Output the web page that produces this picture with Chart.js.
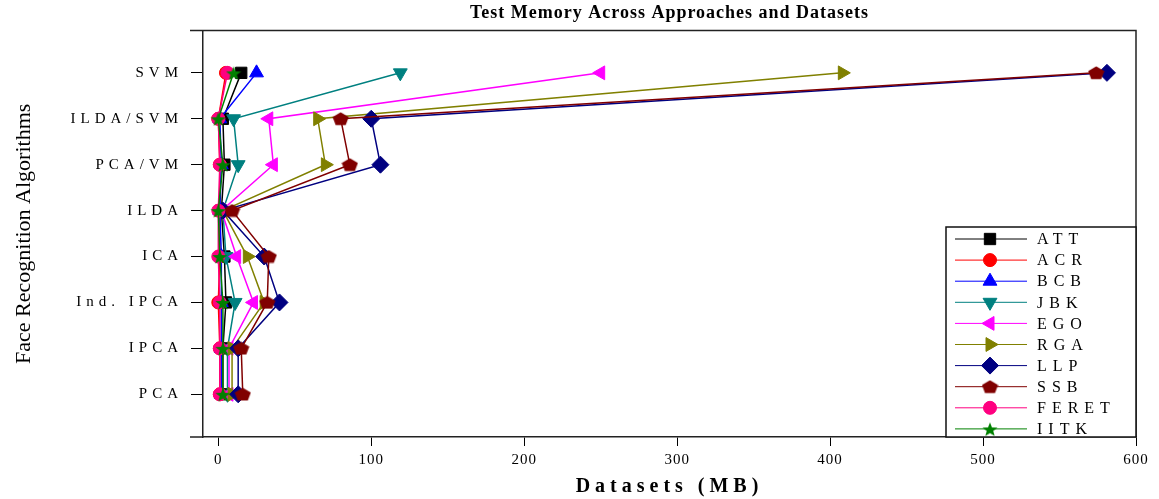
<!DOCTYPE html>
<html>
<head>
<meta charset="utf-8">
<title>Test Memory Across Approaches and Datasets</title>
<script src="https://cdn.jsdelivr.net/npm/chart.js@4.4.0/dist/chart.umd.min.js"></script>
<style>
  html, body { margin: 0; padding: 0; background: #fff; }
  #wrap { width: 1159px; height: 499px; position: relative; }
</style>
</head>
<body>
<div id="wrap"><canvas id="chart"></canvas></div>
<script>
const categories = ['PCA', 'IPCA', 'Ind. IPCA', 'ICA', 'ILDA', 'PCA/VM', 'ILDA/SVM', 'SVM'];
const xTicks = [0, 100, 200, 300, 400, 500, 600];

// test memory (MB), same order as categories (bottom to top)
const att   = [3, 3, 5, 4, 2, 4, 3, 15];
const acr   = [1, 1, 0, 1, 1, 1, 0, 5];
const bcb   = [2, 2, 2, 2, 1, 2, 1, 25];
const jbk   = [6, 6, 11, 5, 3, 13, 10, 119];
const ego   = [7, 7, 23, 12, 2, 36, 33, 250];
const rga   = [9, 9, 30, 19, 3, 70, 65, 408];
const llp   = [13, 13, 40, 30, 3, 106, 100, 581];
const ssb   = [16, 15, 32, 33, 9, 86, 80, 574];
const feret = [1, 1, 1, 0, 0, 1, 0, 6];
const iitk  = [3, 3, 3, 1, 0, 3, 0, 10];

const seriesNames = ['ATT', 'ACR', 'BCB', 'JBK', 'EGO', 'RGA', 'LLP', 'SSB', 'FERET', 'IITK'];
const seriesData = [att, acr, bcb, jbk, ego, rga, llp, ssb, feret, iitk];

const SERIF = "'Liberation Serif', 'Times New Roman', serif";
const colors = ['#000000', '#ff0000', '#0000ff', '#008080', '#ff00ff', '#808000', '#000080', '#800000', '#ff0080', '#008000'];

function shapeCanvas(w, h, color, points) {
  const c = document.createElement('canvas');
  c.width = w; c.height = h;
  const g = c.getContext('2d');
  g.fillStyle = color;
  g.beginPath();
  points.forEach(([px, py], i) => i ? g.lineTo(px, py) : g.moveTo(px, py));
  g.closePath();
  g.fill();
  return c;
}

function polyPoints(w, h, n, inner) {
  const pts = [];
  const steps = inner ? n * 2 : n;
  for (let i = 0; i < steps; i++) {
    const a = -Math.PI / 2 + i * Math.PI * 2 / steps;
    const r = inner && i % 2 ? inner : 1;
    pts.push([w / 2 + Math.cos(a) * r * w / 2, h / 2 + Math.sin(a) * r * h / 2 + (inner ? 1 : 0.5)]);
  }
  return pts;
}

const pentagon = shapeCanvas(17, 14, '#800000', polyPoints(17, 14, 5));
const star = shapeCanvas(16, 15, '#008000', polyPoints(16, 15, 5, 0.42));

const markers = [
  { style: 'rect', r: 8 },
  { style: 'circle', r: 6.5 },
  { style: 'triangle', r: 8 },
  { style: 'triangle', r: 8, rot: 180 },
  { style: 'triangle', r: 8, rot: -90 },
  { style: 'triangle', r: 8, rot: 90 },
  { style: 'rectRot', r: 8.5 },
  { style: pentagon, r: 7 },
  { style: 'circle', r: 6.5 },
  { style: star, r: 7 }
];

function spaced(obj, method, px) {
  if (!obj || obj['_sp_' + method]) return;
  const orig = obj[method];
  obj[method] = function (...args) {
    const ctx = this.ctx;
    ctx.save();
    ctx.letterSpacing = px + 'px';
    orig.apply(this, args);
    ctx.restore();
  };
  obj['_sp_' + method] = true;
}

const framePlugin = {
  id: 'frame',
  beforeDraw(chart) {
    spaced(chart.titleBlock, 'draw', 1);
    spaced(chart.scales.x, 'drawLabels', 1);
    spaced(chart.scales.x, 'drawTitle', 5);
    spaced(chart.scales.y, 'drawLabels', 5);
  },
  afterDatasetsDraw(chart) {
    const { ctx, chartArea: a } = chart;
    ctx.save();
    ctx.strokeStyle = '#222';
    ctx.lineWidth = 1.5;
    ctx.beginPath();
    ctx.moveTo(a.left - 13, a.top);
    ctx.lineTo(a.right, a.top);
    ctx.lineTo(a.right, a.bottom);
    ctx.moveTo(a.left - 13, a.bottom);
    ctx.lineTo(a.left, a.bottom);
    ctx.stroke();
    ctx.restore();
  },
  afterDraw(chart) {
    const { ctx, chartArea: a } = chart;
    const boxW = 190, boxH = 210, rowH = 21.1;
    const left = a.right - boxW, top = a.bottom - boxH;
    ctx.save();
    ctx.fillStyle = '#fff';
    ctx.fillRect(left, top, boxW, boxH);
    ctx.strokeStyle = '#111';
    ctx.lineWidth = 1.5;
    ctx.strokeRect(left, top, boxW, boxH);
    chart.data.datasets.forEach((ds, i) => {
      const y = top + 12 + i * rowH;
      ctx.strokeStyle = ds.borderColor;
      ctx.lineWidth = 1;
      ctx.beginPath();
      ctx.moveTo(left + 9, y);
      ctx.lineTo(left + 81, y);
      ctx.stroke();
      ctx.fillStyle = ds.pointBackgroundColor;
      ctx.strokeStyle = ds.pointBorderColor;
      Chart.helpers.drawPoint(ctx, {
        pointStyle: ds.pointStyle, rotation: ds.pointRotation || 0,
        radius: ds.pointRadius, borderWidth: 1
      }, left + 44, y);
      ctx.fillStyle = '#000';
      ctx.font = '16px ' + SERIF;
      ctx.letterSpacing = '6px';
      ctx.textAlign = 'left';
      ctx.textBaseline = 'middle';
      ctx.fillText(ds.label, left + 91, y + 1);
    });
    ctx.restore();
  }
};

const datasets = seriesNames.map((name, i) => ({
  label: name,
  data: categories.map((c, j) => ({ x: seriesData[i][j], y: j })),
  showLine: true,
  borderColor: colors[i],
  borderWidth: 1.5,
  pointBackgroundColor: colors[i],
  pointBorderColor: colors[i],
  pointBorderWidth: 1,
  pointStyle: markers[i].style,
  pointRadius: markers[i].r,
  pointRotation: markers[i].rot || 0,
  tension: 0,
  order: seriesNames.length - i
}));

new Chart(document.getElementById('chart'), {
  type: 'scatter',
  data: { datasets },
  options: {
    responsive: true,
    maintainAspectRatio: false,
    animation: false,
    layout: { padding: { left: 0, right: 23, top: 0, bottom: 0 } },
    plugins: {
      legend: { display: false },
      tooltip: { enabled: false },
      title: {
        display: true,
        fullSize: false,
        text: 'Test Memory Across Approaches and Datasets',
        color: '#000',
        font: { family: SERIF, size: 18, weight: 'bold' },
        padding: { top: 3, bottom: 6 }
      }
    },
    scales: {
      x: {
        type: 'linear', min: -10, max: 600,
        afterBuildTicks: s => { s.ticks = xTicks.map(v => ({ value: v })); },
        afterFit: s => { s.height = 62; },
        grid: { drawOnChartArea: false, drawTicks: true, tickLength: 9, color: '#000' },
        border: { display: true, color: '#222', width: 1.5 },
        ticks: { color: '#000', padding: 5, maxRotation: 0, font: { family: SERIF, size: 15 } },
        title: {
          display: true, text: 'Datasets (MB)', color: '#000',
          font: { family: SERIF, size: 20, weight: 'bold' }, padding: { top: 0, bottom: 0 }
        }
      },
      y: {
        type: 'linear', min: -0.93, max: 7.92,
        afterBuildTicks: s => { s.ticks = categories.map((c, i) => ({ value: i })); },
        afterFit: s => { s.width = 203; },
        grid: { drawOnChartArea: false, drawTicks: true, tickLength: 12, color: '#000' },
        border: { display: true, color: '#222', width: 1.5 },
        ticks: { color: '#000', padding: 8, autoSkip: false, callback: v => categories[v], font: { family: SERIF, size: 15 } },
        title: {
          display: true, text: 'Face Recognition Algorithms', color: '#000',
          font: { family: SERIF, size: 22 }, padding: { top: 11, bottom: 0 }
        }
      }
    }
  },
  plugins: [framePlugin]
});
</script>
</body>
</html>
